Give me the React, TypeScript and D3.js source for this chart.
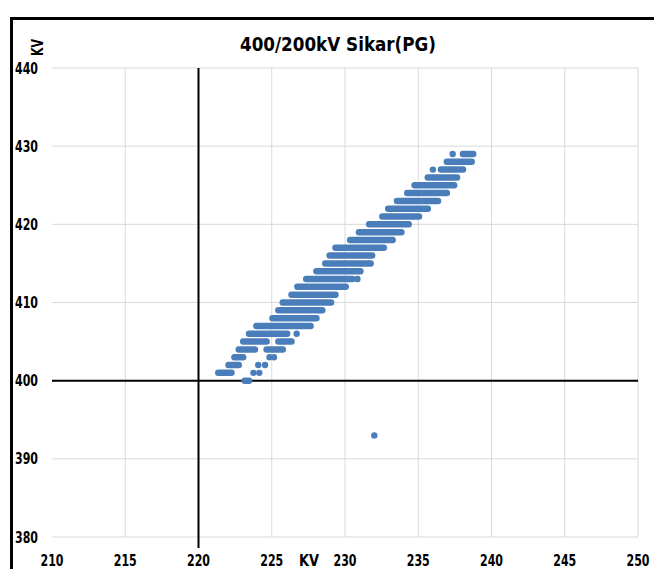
import React from "react";
import * as d3 from "d3";

const title = "400/200kV Sikar(PG)";
const xTicks = [210, 215, 220, 225, 230, 235, 240, 245, 250];
const yTicks = [380, 390, 400, 410, 420, 430, 440];

// Dense strips of readings: 400kV level and 220kV range covered
const stripKV400 = [400, 401, 402, 403, 404, 404, 405, 405, 406, 407, 408, 409, 410, 411, 412, 413, 414, 415, 416, 417, 418, 419, 420, 421, 422, 423, 424, 425, 426, 427, 428, 429];
const stripFrom = [223.15, 221.35, 222.05, 222.45, 222.75, 224.65, 223.05, 225.45, 223.45, 223.95, 225.05, 225.45, 225.75, 226.35, 226.75, 227.35, 228.05, 228.65, 228.95, 229.35, 230.35, 230.95, 231.65, 232.55, 232.95, 233.55, 234.25, 234.75, 235.65, 236.55, 236.95, 238.05];
const stripTo = [223.45, 222.25, 222.75, 223.05, 223.85, 225.75, 224.65, 226.35, 226.05, 227.65, 228.05, 228.45, 229.05, 229.35, 230.05, 230.5, 231.05, 231.75, 231.85, 232.65, 233.25, 233.85, 234.35, 235.05, 235.65, 236.35, 236.95, 237.45, 237.65, 238.05, 238.65, 238.75];

// Isolated readings
const dotKV220 = [223.75, 224.15, 224.08, 224.54, 224.85, 225.15, 226.7, 230.85, 236.0, 237.35, 232.0];
const dotKV400 = [401, 401, 402, 402, 403, 403, 406, 413, 427, 429, 393];

// Reference lines
const refV = { x: 220, y0: 440, y1: 378.6 };
const refH = { y: 400, x0: 210, x1: 250 };

const W = 654;
const H = 569;
const plot = { left: 52, right: 638, top: 68, bottom: 537 };
const blue = "#4a7ebb";
const font = "'DejaVu Sans', sans-serif";

export default function App() {
  const x = d3.scaleLinear().domain([210, 250]).range([plot.left, plot.right]);
  const y = d3.scaleLinear().domain([380, 440]).range([plot.bottom, plot.top]);

  return (
    <svg
      width={W}
      height={H}
      style={{ position: "absolute", left: 0, top: 0, background: "#fff" }}
      fontFamily={font}
    >
      {/* outer frame */}
      <line x1={11.5} y1={18.5} x2={W} y2={18.5} stroke="#000" strokeWidth={3} />
      <line x1={11.5} y1={17} x2={11.5} y2={H} stroke="#000" strokeWidth={3} />

      {/* grid */}
      {xTicks.filter((t) => t !== 210).map((t) => (
        <line key={"gx" + t} x1={x(t)} x2={x(t)} y1={y(440)} y2={y(380)} stroke="#d9d9d9" strokeWidth={1} />
      ))}
      {yTicks.map((t) => (
        <line key={"gy" + t} x1={x(210)} x2={x(250)} y1={y(t)} y2={y(t)} stroke="#d9d9d9" strokeWidth={1} />
      ))}

      {/* reference lines */}
      <line x1={x(refV.x)} x2={x(refV.x)} y1={y(refV.y0)} y2={y(refV.y1)} stroke="#000" strokeWidth={2} />
      <line x1={x(refH.x0)} x2={x(refH.x1)} y1={y(refH.y)} y2={y(refH.y)} stroke="#000" strokeWidth={2} />

      {/* strips */}
      {stripKV400.map((v, i) => (
        <line
          key={"s" + i}
          x1={x(stripFrom[i])}
          x2={x(stripTo[i])}
          y1={y(v)}
          y2={y(v)}
          stroke={blue}
          strokeWidth={6.5}
          strokeLinecap="round"
        />
      ))}
      {dotKV220.map((v, i) => (
        <circle key={"d" + i} cx={x(v)} cy={y(dotKV400[i])} r={3.2} fill={blue} />
      ))}

      {/* y tick labels */}
      {yTicks.map((t) => (
        <text key={"ty" + t} x={15} y={y(t) + 5.6} fontSize={15.5} fontWeight="bold" fill="#000"
          textLength={23} lengthAdjust="spacingAndGlyphs">
          {t}
        </text>
      ))}
      {/* x tick labels */}
      {xTicks.map((t) => (
        <text key={"tx" + t} x={x(t) - 11.5} y={566} fontSize={15.5} fontWeight="bold" fill="#000"
          textLength={23} lengthAdjust="spacingAndGlyphs">
          {t}
        </text>
      ))}

      {/* axis titles */}
      <text x={299} y={566} fontSize={16} fontWeight="bold" fill="#000"
        textLength={20} lengthAdjust="spacingAndGlyphs">KV</text>
      <text transform="translate(43,56) rotate(-90)" fontSize={15.5} fontWeight="bold" fill="#000"
        textLength={17} lengthAdjust="spacingAndGlyphs">KV</text>

      {/* title */}
      <text x={240} y={51} fontSize={19} fontWeight="bold" fill="#000"
        textLength={196} lengthAdjust="spacingAndGlyphs">
        {title}
      </text>
    </svg>
  );
}
